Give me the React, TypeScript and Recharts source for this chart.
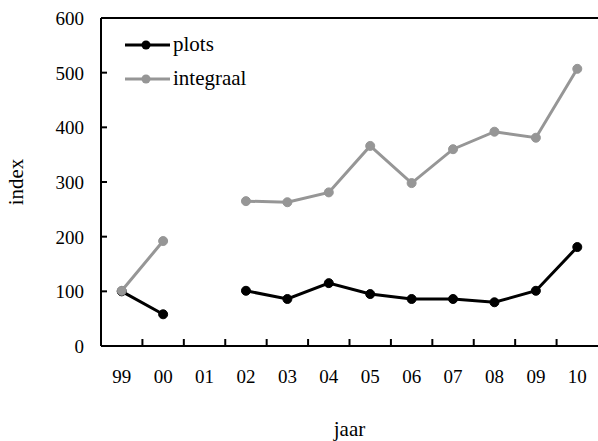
import React from 'react';
import { LineChart, Line, XAxis, YAxis, Legend, ReferenceLine } from 'recharts';

const years = ['99', '00', '01', '02', '03', '04', '05', '06', '07', '08', '09', '10'];
const plots = [100, 58, null, 101, 86, 115, 95, 86, 86, 80, 101, 181];
const integraal = [101, 192, null, 265, 263, 281, 366, 298, 360, 392, 381, 507];
const seriesNames = ['plots', 'integraal'];
const yTicks = [0, 100, 200, 300, 400, 500, 600];

const data = years.map((y, i) => ({ i, year: y, plots: plots[i], integraal: integraal[i] }));

// labels on whole numbers, tick marks on category boundaries
const xTicks: number[] = [];
years.forEach((_, i) => {
  xTicks.push(i);
  if (i < years.length - 1) xTicks.push(i + 0.5);
});

const FONT = '"Liberation Serif", "Times New Roman", serif';
const FS = 19;
const FS_WORD = 21;

const XTick = (props: any) => {
  const { x, y, payload } = props;
  const v = payload.value as number;
  if (Number.isInteger(v)) {
    return (
      <text x={x} y={y + 37} textAnchor="middle" fontFamily={FONT} fontSize={FS} fill="#000">
        {years[v]}
      </text>
    );
  }
  return <line x1={x} x2={x} y1={y} y2={y - 7} stroke="#000" strokeWidth={2} />;
};

const YTick = (props: any) => {
  const { x, y, payload } = props;
  return (
    <g>
      <line x1={x} x2={x + 6} y1={y} y2={y} stroke="#000" strokeWidth={2} />
      <text x={x - 17} y={y + 7} textAnchor="end" fontFamily={FONT} fontSize={FS} fill="#000">
        {payload.value}
      </text>
    </g>
  );
};

const YLabel = (props: any) => {
  const { viewBox } = props;
  const cx = viewBox.x + 16;
  const cy = viewBox.y + viewBox.height / 2;
  return (
    <text x={cx} y={cy} transform={`rotate(-90, ${cx}, ${cy})`} textAnchor="middle" dominantBaseline="central"
      fontFamily={FONT} fontSize={FS_WORD} fill="#000">
      index
    </text>
  );
};

const XLabel = (props: any) => {
  const { viewBox } = props;
  return (
    <text x={viewBox.x + viewBox.width / 2} y={viewBox.y + 90} textAnchor="middle" fontFamily={FONT} fontSize={FS_WORD} fill="#000">
      jaar
    </text>
  );
};

const LegendBox = (props: any) => {
  const items = [...(props.payload || [])].sort(
    (a: any, b: any) => seriesNames.indexOf(a.value) - seriesNames.indexOf(b.value)
  );
  return (
    <svg width={160} height={80} style={{ position: 'absolute', left: 0, top: 0, overflow: 'visible' }}>
      {items.map((p: any, k: number) => {
        const cy = 20 + k * 34;
        return (
          <g key={p.value}>
            <line x1={5} x2={50} y1={cy} y2={cy} stroke={p.color} strokeWidth={3} />
            <circle cx={26} cy={cy} r={4.5} fill={p.color} />
            <text x={53} y={cy + 6} fontFamily={FONT} fontSize={FS_WORD} fill="#000">{p.value}</text>
          </g>
        );
      })}
    </svg>
  );
};

export default function App() {
  return (
    <div style={{ position: 'fixed', left: 0, top: 0, width: 598, height: 441, background: '#fff' }}>
      <LineChart width={598} height={441} data={data} margin={{ top: 18, right: 0, bottom: 0, left: 0 }}>
        <XAxis
          dataKey="i"
          type="number"
          domain={[-0.5, 11.5]}
          ticks={xTicks}
          interval={0}
          height={95}
          tickSize={0}
          tickMargin={0}
          tickLine={false}
          axisLine={{ stroke: '#000', strokeWidth: 2 }}
          tick={<XTick />}
          label={<XLabel />}
        />
        <YAxis
          type="number"
          domain={[0, 600]}
          ticks={yTicks}
          interval={0}
          width={101}
          tickSize={0}
          tickMargin={0}
          tickLine={false}
          axisLine={{ stroke: '#000', strokeWidth: 2 }}
          tick={<YTick />}
          label={<YLabel />}
        />
        <ReferenceLine y={600} stroke="#000" strokeWidth={2} />
        <Legend
          verticalAlign="top"
          align="left"
          layout="vertical"
          content={<LegendBox />}
          wrapperStyle={{ position: 'absolute', left: 120, top: 25, width: 0, height: 0, overflow: 'visible' }}
        />
        <Line
          name="plots"
          dataKey="plots"
          stroke="#000"
          strokeWidth={3}
          dot={{ r: 4.5, fill: '#000', stroke: '#000', strokeWidth: 1 }}
          isAnimationActive={false}
        />
        <Line
          name="integraal"
          dataKey="integraal"
          stroke="#969696"
          strokeWidth={3}
          dot={{ r: 4.5, fill: '#969696', stroke: '#969696', strokeWidth: 1 }}
          isAnimationActive={false}
        />
      </LineChart>
    </div>
  );
}
